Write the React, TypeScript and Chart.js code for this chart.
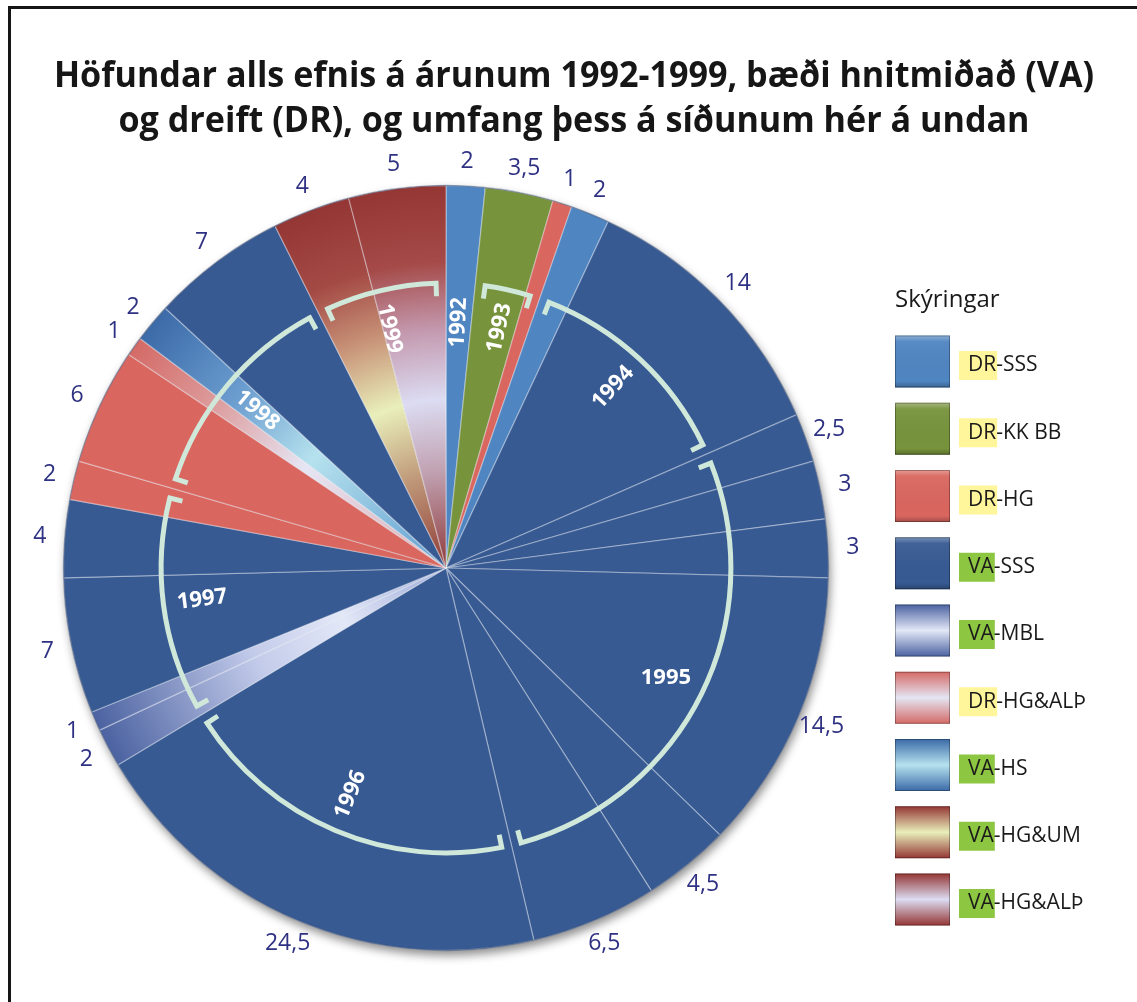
import React, { useEffect, useRef } from "react";
import { Chart, registerables } from "chart.js";

Chart.register(...registerables);

// ---------- data ----------
const TITLE_LINES = [
  "Höfundar alls efnis á árunum 1992-1999, bæði hnitmiðað (VA)",
  "og dreift (DR), og umfang þess á síðunum hér á undan",
];
const LEGEND_TITLE = "Skýringar";
const CATEGORY_PREFIXES = ["DR", "DR", "DR", "VA", "VA", "DR", "VA", "VA", "VA"];
const CATEGORY_NAMES = ["-SSS", "-KK BB", "-HG", "-SSS", "-MBL", "-HG&ALÞ", "-HS", "-HG&UM", "-HG&ALÞ"];

const SLICE_VALUES = [2, 3.5, 1, 2, 14, 2.5, 3, 3, 14.5, 4.5, 6.5, 24.5, 2, 1, 7, 4, 2, 6, 1, 2, 7, 4, 5];
const SLICE_CATEGORIES = [0, 1, 2, 0, 3, 3, 3, 3, 3, 3, 3, 3, 4, 4, 3, 3, 2, 2, 5, 6, 3, 7, 8];
const SLICE_YEARS = [
  1992, 1993, 1993, 1994, 1994, 1995, 1995, 1995, 1995, 1995, 1995, 1996,
  1997, 1997, 1997, 1997, 1997, 1998, 1998, 1998, 1998, 1999, 1999,
];

// ---------- styles ----------
type Style = { solid?: string; dark?: string; light?: string; stops?: [number, string][] };
const CATEGORY_STYLES: Style[] = [
  { solid: "#4f85c1" },
  { solid: "#77933c" },
  { solid: "#d9665f" },
  { solid: "#375a93" },
  { dark: "#4b62a1", light: "#e3e8f7", stops: [[0, "#9aa8d8"], [0.3, "#e3e8f7"], [0.55, "#c3cbea"], [1, "#4b62a1"]] },
  { dark: "#d46a66", light: "#e4e5f3", stops: [[0, "#dca8ae"], [0.45, "#e6e6f4"], [0.75, "#dc9a9a"], [1, "#d46a66"]] },
  { dark: "#3b6aa8", light: "#b6e2ee", stops: [[0, "#5f9bcf"], [0.45, "#b6e2ee"], [0.7, "#6c9ed0"], [1, "#3b6aa8"]] },
  { dark: "#943634", light: "#e9efbb", stops: [[0, "#8e3a36"], [0.25, "#c09a7a"], [0.44, "#e9efbb"], [0.62, "#c9967a"], [0.8, "#a44a45"], [1, "#943634"]] },
  { dark: "#943634", light: "#dcdcf2", stops: [[0, "#8e3a3a"], [0.25, "#c0a0b0"], [0.44, "#dcdcf2"], [0.62, "#c49ab0"], [0.8, "#a54a48"], [1, "#943634"]] },
];
const PREFIX_COLORS: Record<string, string> = { DR: "#fff59b", VA: "#8dc641" };
const FONT = '"Open Sans", "Noto Sans", sans-serif';
const LABEL_COLOR = "#2f3282";
const BRACKET_COLOR = "#cfe8da";
const HORIZONTAL_YEAR_LABELS = [1995];

const fmt = (v: number) => String(v).replace(".", ",");
const DEG = Math.PI / 180;

const decorPlugin = {
  id: "decor",
  beforeDatasetsDraw(chart: any) {
    const arc = chart.getDatasetMeta(0).data[0] as any;
    if (!arc) return;
    const ctx = chart.ctx as CanvasRenderingContext2D;
    ctx.save();
    ctx.shadowColor = "rgba(0,0,0,0.45)";
    ctx.shadowBlur = 10;
    ctx.shadowOffsetX = 2;
    ctx.shadowOffsetY = 5;
    ctx.beginPath();
    ctx.arc(arc.x, arc.y, arc.outerRadius, 0, Math.PI * 2);
    ctx.fillStyle = "#375a93";
    ctx.fill();
    ctx.restore();
  },
  afterDatasetsDraw(chart: any) {
    const ctx = chart.ctx as CanvasRenderingContext2D;
    const arcs = chart.getDatasetMeta(0).data as any[];
    if (!arcs.length) return;
    const cx = arcs[0].x, cy = arcs[0].y, R = arcs[0].outerRadius;

    ctx.save();
    ctx.beginPath();
    ctx.arc(cx, cy, R, 0, Math.PI * 2);
    ctx.strokeStyle = "rgba(25,45,85,0.35)";
    ctx.lineWidth = 1.5;
    ctx.stroke();
    ctx.restore();

    // year groups
    const groups: { year: number; start: number; end: number }[] = [];
    arcs.forEach((a, i) => {
      const y = SLICE_YEARS[i];
      const g = groups[groups.length - 1];
      if (g && g.year === y) g.end = a.endAngle;
      else groups.push({ year: y, start: a.startAngle, end: a.endAngle });
    });

    // brackets
    const br = R * 0.745, tick = 13, inset = 2 * DEG;
    ctx.save();
    ctx.strokeStyle = BRACKET_COLOR;
    ctx.lineWidth = 5;
    ctx.lineJoin = "miter";
    ctx.lineCap = "butt";
    groups.forEach((g) => {
      if (g.end - g.start < 8 * DEG) return;
      const a0 = g.start + inset, a1 = g.end - inset;
      ctx.beginPath();
      ctx.moveTo(cx + (br - tick) * Math.cos(a0), cy + (br - tick) * Math.sin(a0));
      ctx.lineTo(cx + br * Math.cos(a0), cy + br * Math.sin(a0));
      ctx.arc(cx, cy, br, a0, a1);
      ctx.lineTo(cx + (br - tick) * Math.cos(a1), cy + (br - tick) * Math.sin(a1));
      ctx.stroke();
    });
    ctx.restore();

    // year labels
    ctx.save();
    ctx.fillStyle = "#ffffff";
    ctx.font = `bold 22px ${FONT}`;
    ctx.textAlign = "center";
    ctx.textBaseline = "middle";
    groups.forEach((g) => {
      const m = (g.start + g.end) / 2;
      const r = R * 0.643;
      let rot = m;
      while (rot > Math.PI / 2 + 0.01) rot -= Math.PI;
      while (rot < -Math.PI / 2 - 0.01) rot += Math.PI;
      if (HORIZONTAL_YEAR_LABELS.includes(g.year)) rot = 0;
      ctx.save();
      ctx.translate(cx + r * Math.cos(m), cy + r * Math.sin(m));
      ctx.rotate(rot);
      ctx.fillText(String(g.year), 0, 0);
      ctx.restore();
    });
    ctx.restore();

    // value labels
    ctx.save();
    ctx.fillStyle = LABEL_COLOR;
    ctx.font = `23px ${FONT}`;
    ctx.textAlign = "center";
    ctx.textBaseline = "middle";
    arcs.forEach((a, i) => {
      const m = (a.startAngle + a.endAngle) / 2;
      const r = R + 25;
      ctx.fillText(fmt(SLICE_VALUES[i]), cx + r * Math.cos(m), cy + r * Math.sin(m));
    });
    ctx.restore();
  },
  afterDraw(chart: any) {
    const ctx = chart.ctx as CanvasRenderingContext2D;
    // title
    ctx.save();
    ctx.font = `bold 36px ${FONT}`;
    const w = ctx.measureText(TITLE_LINES[0]).width;
    const sx = 1040 / w;
    ctx.fillStyle = "#161616";
    ctx.textAlign = "center";
    ctx.textBaseline = "alphabetic";
    TITLE_LINES.forEach((line, i) => {
      ctx.save();
      ctx.translate(574, 87 + i * 45);
      ctx.scale(sx, 1);
      ctx.fillText(line, 0, 0);
      ctx.restore();
    });
    ctx.restore();

    // legend
    ctx.save();
    ctx.fillStyle = "#1a1a1a";
    ctx.font = `24px ${FONT}`;
    ctx.textAlign = "left";
    ctx.textBaseline = "alphabetic";
    ctx.fillText(LEGEND_TITLE, 895, 307);
    CATEGORY_NAMES.forEach((name, i) => {
      const cyRow = 361.5 + i * 67.25;
      const st = CATEGORY_STYLES[i];
      const bx = 895, bw = 55, bh = 52, by = cyRow - bh / 2;
      if (st.solid) {
        ctx.fillStyle = st.solid;
        ctx.fillRect(bx, by, bw, bh);
        const hg = ctx.createLinearGradient(0, by, 0, by + bh);
        hg.addColorStop(0, "rgba(255,255,255,0.35)");
        hg.addColorStop(0.12, "rgba(255,255,255,0.05)");
        hg.addColorStop(0.88, "rgba(0,0,0,0)");
        hg.addColorStop(1, "rgba(0,0,0,0.25)");
        ctx.fillStyle = hg;
        ctx.fillRect(bx, by, bw, bh);
      } else {
        const g = ctx.createLinearGradient(0, by, 0, by + bh);
        g.addColorStop(0, st.dark!);
        g.addColorStop(0.5, st.light!);
        g.addColorStop(1, st.dark!);
        ctx.fillStyle = g;
        ctx.fillRect(bx, by, bw, bh);
      }
      ctx.strokeStyle = "rgba(0,0,0,0.3)";
      ctx.lineWidth = 1;
      ctx.strokeRect(bx + 0.5, by + 0.5, bw - 1, bh - 1);

      const prefix = CATEGORY_PREFIXES[i];
      ctx.font = `21px ${FONT}`;
      const pw = ctx.measureText(prefix).width;
      ctx.fillStyle = PREFIX_COLORS[prefix];
      ctx.fillRect(959, cyRow + 4 - 14.5, pw + 10, 29);
      ctx.fillStyle = "#1a1a1a";
      ctx.textBaseline = "middle";
      ctx.fillText(prefix, 968, cyRow + 4);
      ctx.fillText(name, 968 + pw, cyRow + 4);
    });
    ctx.restore();
  },
};

export default function App() {
  const ref = useRef<HTMLCanvasElement>(null);
  useEffect(() => {
    const canvas = ref.current!;
    const chart = new Chart(canvas, {
      type: "pie",
      data: {
        labels: SLICE_VALUES.map((_, i) => CATEGORY_PREFIXES[SLICE_CATEGORIES[i]] + CATEGORY_NAMES[SLICE_CATEGORIES[i]]),
        datasets: [
          {
            data: SLICE_VALUES,
            backgroundColor: (c: any) => {
              const st = CATEGORY_STYLES[SLICE_CATEGORIES[c.dataIndex]];
              if (st.solid) return st.solid;
              const ca = c.chart.chartArea;
              if (!ca) return st.dark;
              const x = (ca.left + ca.right) / 2, y = (ca.top + ca.bottom) / 2;
              const r = Math.min(ca.right - ca.left, ca.bottom - ca.top) / 2;
              const g = c.chart.ctx.createRadialGradient(x, y, 0, x, y, r);
              st.stops!.forEach(([t, col]) => g.addColorStop(t, col));
              return g;
            },
            borderColor: "rgba(255,255,255,0.38)",
            borderWidth: 1.2,
          },
        ],
      },
      options: {
        responsive: false,
        animation: false,
        events: [],
        layout: { padding: { left: 63, top: 185, right: 308, bottom: 51 } },
        plugins: {
          legend: { display: false },
          tooltip: { enabled: false },
          title: { display: false },
        },
      },
      plugins: [decorPlugin],
    });
    return () => chart.destroy();
  }, []);

  return (
    <div style={{ position: "fixed", left: 0, top: 0, width: 1137, height: 1002, background: "#fff", overflow: "hidden" }}>
      <div
        style={{
          position: "absolute",
          left: 8,
          top: 6,
          right: 0,
          bottom: 0,
          borderTop: "3px solid #151515",
          borderLeft: "3px solid #151515",
        }}
      />
      <canvas ref={ref} width={1137} height={1002} style={{ position: "absolute", left: 0, top: 0, width: 1137, height: 1002 }} />
    </div>
  );
}
